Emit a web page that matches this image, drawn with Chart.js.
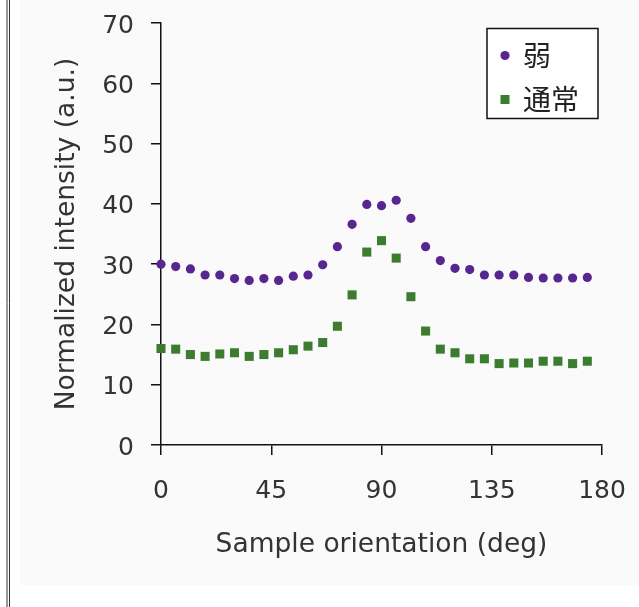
<!DOCTYPE html>
<html>
<head>
<meta charset="utf-8">
<script src="https://cdn.jsdelivr.net/npm/chart.js@4.4.1/dist/chart.umd.min.js"></script>
<style>
  body { margin: 0; background: #fff; }
  canvas { display: block; }
</style>
</head>
<body>
<canvas id="chart" width="639" height="607"></canvas>
<script>
// data
const angles = [0, 6, 12, 18, 24, 30, 36, 42, 48, 54, 60, 66, 72, 78, 84,
                90, 96, 102, 108, 114, 120, 126, 132, 138, 144, 150, 156, 162, 168, 174];
const weakValues = [30.0, 29.6, 29.2, 28.2, 28.2, 27.6, 27.3, 27.6, 27.3, 28.0, 28.2, 29.9, 32.9, 36.6, 39.9,
                    39.7, 40.6, 37.6, 32.9, 30.6, 29.3, 29.1, 28.2, 28.2, 28.2, 27.8, 27.7, 27.7, 27.7, 27.8];
const normalValues = [16.0, 15.9, 15.0, 14.7, 15.1, 15.3, 14.7, 15.0, 15.3, 15.8, 16.4, 17.0, 19.7, 24.9, 32.0,
                      33.9, 31.0, 24.6, 18.9, 15.9, 15.3, 14.3, 14.3, 13.5, 13.6, 13.6, 13.9, 13.9, 13.5, 13.9];
const seriesLabels = ['弱', '通常'];
const xTicks = [0, 45, 90, 135, 180];
const yTicks = [0, 10, 20, 30, 40, 50, 60, 70];

const purple = '#57268f';
const green = '#3b7c2f';
const textFont = '"DejaVu Sans", sans-serif';

function toPoints(values) {
    return values.map((v, i) => ({ x: angles[i], y: v }));
}

// page background + left frame line
const backgroundPlugin = {
    id: 'background',
    beforeDraw(chart) {
        const ctx = chart.ctx;
        ctx.save();
        ctx.fillStyle = '#fff';
        ctx.fillRect(0, 0, chart.width, chart.height);
        ctx.fillStyle = '#fafafa';
        ctx.fillRect(20, 0, chart.width - 20, 585);
        ctx.strokeStyle = '#333';
        ctx.lineWidth = 1;
        ctx.beginPath();
        ctx.moveTo(7, 0); ctx.lineTo(7, chart.height);
        ctx.moveTo(9.5, 0); ctx.lineTo(9.5, chart.height);
        ctx.stroke();
        ctx.restore();
    }
};

// boxed legend in the top right corner
const boxLegendPlugin = {
    id: 'boxLegend',
    afterDraw(chart) {
        const ctx = chart.ctx;
        const bx = 487, by = 28.5, bw = 111, bh = 90;
        ctx.save();
        ctx.fillStyle = '#fff';
        ctx.fillRect(bx, by, bw, bh);
        ctx.strokeStyle = '#111';
        ctx.lineWidth = 1.5;
        ctx.strokeRect(bx, by, bw, bh);
        ctx.font = '28px "Noto Sans CJK JP", sans-serif';
        ctx.textBaseline = 'middle';
        chart.data.datasets.forEach((ds, i) => {
            const cy = by + 27 + i * 44;
            const cx = bx + 18;
            ctx.fillStyle = ds.backgroundColor;
            ctx.beginPath();
            if (ds.pointStyle === 'rect') {
                ctx.rect(cx - 4.5, cy - 4.5, 9, 9);
            } else {
                ctx.arc(cx, cy, 4.6, 0, Math.PI * 2);
            }
            ctx.fill();
            ctx.fillStyle = '#222';
            ctx.fillText(ds.label, bx + 36, cy);
        });
        ctx.restore();
    }
};

const ctx = document.getElementById('chart').getContext('2d');
new Chart(ctx, {
    type: 'scatter',
    data: {
        datasets: [{
            label: seriesLabels[0],
            data: toPoints(weakValues),
            pointStyle: 'circle',
            pointRadius: 4.6,
            backgroundColor: purple,
            borderColor: purple,
            borderWidth: 0,
            clip: false
        }, {
            label: seriesLabels[1],
            data: toPoints(normalValues),
            pointStyle: 'rect',
            pointRadius: 6.4,
            backgroundColor: green,
            borderColor: green,
            borderWidth: 0,
            clip: false
        }]
    },
    options: {
        responsive: false,
        animation: false,
        layout: {
            padding: { left: 0, top: 23, right: 37, bottom: 0 }
        },
        plugins: {
            legend: { display: false },
            tooltip: { enabled: false }
        },
        scales: {
            x: {
                type: 'linear',
                min: 0,
                max: 180,
                afterBuildTicks(scale) {
                    scale.ticks = xTicks.map(v => ({ value: v }));
                },
                afterFit(scale) {
                    scale.height = 607 - 445;
                },
                border: { display: true, color: '#111', width: 1.5 },
                grid: { drawOnChartArea: false, drawTicks: true, tickLength: 10, color: '#111', lineWidth: 1.5 },
                ticks: {
                    padding: 10,
                    color: '#333',
                    font: { family: textFont, size: 25, lineHeight: 2.1 }
                },
                title: {
                    display: true,
                    text: 'Sample orientation (deg)',
                    color: '#333',
                    font: { family: textFont, size: 26.5 },
                    padding: { top: 0, bottom: 46 }
                }
            },
            y: {
                min: 0,
                max: 70,
                afterBuildTicks(scale) {
                    scale.ticks = yTicks.map(v => ({ value: v }));
                },
                afterFit(scale) {
                    scale.width = 161;
                },
                border: { display: true, color: '#111', width: 1.5 },
                grid: { drawOnChartArea: false, drawTicks: true, tickLength: 10, color: '#111', lineWidth: 1.5 },
                ticks: {
                    padding: 17,
                    labelOffset: 3,
                    color: '#333',
                    font: { family: textFont, size: 25, lineHeight: 0.2 }
                },
                title: {
                    display: true,
                    text: 'Normalized intensity (a.u.)',
                    color: '#333',
                    font: { family: textFont, size: 26.5 },
                    padding: { top: 51, bottom: 0 }
                }
            }
        }
    },
    plugins: [backgroundPlugin, boxLegendPlugin]
});
</script>
</body>
</html>
